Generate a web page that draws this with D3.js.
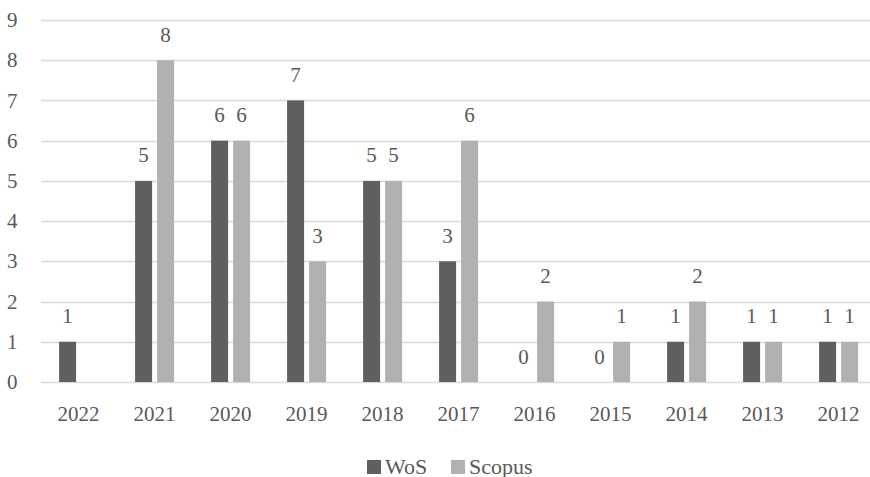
<!DOCTYPE html>
<html><head><meta charset="utf-8">
<script src="https://cdn.jsdelivr.net/npm/d3@7"></script>
<style>html,body{margin:0;padding:0;background:#fff;}svg{display:block;}</style>
</head><body>
<script>
const categories = ["2022","2021","2020","2019","2018","2017","2016","2015","2014","2013","2012"];
const wos = [1,5,6,7,5,3,0,0,1,1,1];
const scopus = [null,8,6,3,5,6,2,1,2,1,1];
const seriesNames = ["WoS","Scopus"];
const seriesColors = ["#5f5f5f","#b1b1b1"];
const yTicks = [0,1,2,3,4,5,6,7,8,9];

const W = 870, H = 477;
const font = '"Liberation Serif"';
const textColor = "#595959";
const svg = d3.select("body").append("svg").attr("width", W).attr("height", H);

const x = d3.scaleBand().domain(categories).range([40.6, 876.6]);
const xs = d3.scaleBand().domain(seriesNames).range([0, 39]).paddingInner(0.2273);
const y = d3.scaleLinear().domain([0, 9]).range([382, 20]);

// gridlines
svg.append("g").selectAll("line").data(yTicks).join("line")
  .attr("x1", 41).attr("x2", 870)
  .attr("y1", d => Math.round(y(d)) + 0.5).attr("y2", d => Math.round(y(d)) + 0.5)
  .attr("stroke", "#d9d9d9").attr("stroke-width", 1.3);

// y tick labels
svg.append("g").selectAll("text").data(yTicks).join("text")
  .attr("x", 17.5).attr("y", d => y(d)).attr("dy", "0.34em")
  .attr("text-anchor", "end")
  .style("font-family", font).style("font-size", "21px").attr("fill", textColor)
  .text(d => d);

// x labels
svg.append("g").selectAll("text").data(categories).join("text")
  .attr("x", d => x(d) + x.bandwidth()/2).attr("y", 421)
  .attr("text-anchor", "middle")
  .style("font-family", font).style("font-size", "21px").attr("fill", textColor)
  .text(d => d);

const rows = [];
categories.forEach((c, i) => {
  rows.push({cat: c, s: "WoS", v: wos[i], col: seriesColors[0]});
  rows.push({cat: c, s: "Scopus", v: scopus[i], col: seriesColors[1]});
});
const valid = rows.filter(r => r.v !== null);
const bx = r => x(r.cat) + x.bandwidth()/2 - 19.5 + xs(r.s);

svg.append("g").selectAll("rect").data(valid.filter(r => r.v > 0)).join("rect")
  .attr("x", bx).attr("width", xs.bandwidth())
  .attr("y", r => y(r.v)).attr("height", r => y(0) - y(r.v))
  .attr("fill", r => r.col);

svg.append("g").selectAll("text").data(valid).join("text")
  .attr("x", r => bx(r) + xs.bandwidth()/2).attr("y", r => y(r.v) - 18.5)
  .attr("text-anchor", "middle")
  .style("font-family", font).style("font-size", "21px").attr("fill", textColor)
  .text(r => r.v);

// legend
const legendX = [367, 451];
const lg = svg.append("g");
seriesNames.forEach((s, i) => {
  lg.append("rect").attr("x", legendX[i]).attr("y", 460).attr("width", 14).attr("height", 14).attr("fill", seriesColors[i]);
  lg.append("text").attr("x", legendX[i] + 18).attr("y", 473.5)
    .style("font-family", font).style("font-size", "22px").attr("fill", textColor).text(s);
});
</script>
</body></html>
